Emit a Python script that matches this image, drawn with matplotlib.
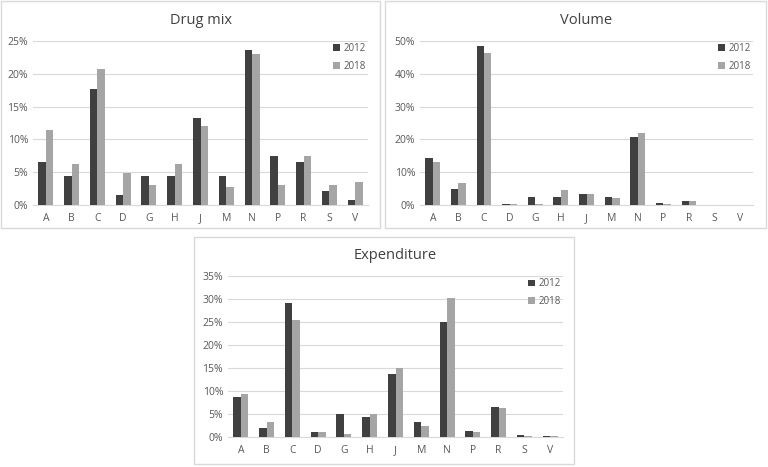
import matplotlib
matplotlib.use('Agg')
import matplotlib.pyplot as plt
from matplotlib.patches import Rectangle
from matplotlib.ticker import FuncFormatter
import numpy as np

categories = ['A', 'B', 'C', 'D', 'G', 'H', 'J', 'M', 'N', 'P', 'R', 'S', 'V']
years = ['2012', '2018']

drug_mix_2012 = [6.6, 4.4, 17.7, 1.5, 4.4, 4.4, 13.3, 4.4, 23.6, 7.4, 6.6, 2.2, 0.8]
drug_mix_2018 = [11.5, 6.2, 20.8, 4.9, 3.1, 6.2, 12.0, 2.7, 23.0, 3.1, 7.5, 3.1, 3.5]

volume_2012 = [14.2, 5.0, 48.6, 0.3, 2.3, 2.3, 3.5, 2.4, 20.6, 0.6, 1.1, 0.1, 0.05]
volume_2018 = [13.1, 6.6, 46.4, 0.2, 0.2, 4.5, 3.4, 2.2, 21.9, 0.4, 1.3, 0.05, 0.1]

expenditure_2012 = [8.7, 1.9, 29.1, 1.0, 5.0, 4.3, 13.6, 3.2, 25.0, 1.2, 6.6, 0.4, 0.25]
expenditure_2018 = [9.3, 3.3, 25.5, 1.0, 0.7, 5.0, 15.0, 2.5, 30.2, 1.0, 6.2, 0.2, 0.2]

DARK = '#404040'
LIGHT = '#a5a5a5'
GRID = '#d9d9d9'
TEXT = '#595959'
FONT = 'Open Sans'

plt.rcParams['font.family'] = [FONT, 'DejaVu Sans']

fig = plt.figure(figsize=(7.68, 4.67), dpi=100)
W, H = 768.0, 467.0


def px_rect(x0, y0, x1, y1):
    # pixel box (top-left origin) -> figure fraction [left, bottom, width, height]
    return [x0 / W, 1 - y1 / H, (x1 - x0) / W, (y1 - y0) / H]


def panel(frame, plot_box, title, v2012, v2018, ymax, step):
    fx = px_rect(*frame)
    fig.patches.append(Rectangle((fx[0], fx[1]), fx[2], fx[3], transform=fig.transFigure,
                                 facecolor='none', edgecolor=GRID, lw=1.0, zorder=-1))
    ax = fig.add_axes(px_rect(*plot_box))
    x = np.arange(len(categories))
    w = 0.29
    ax.bar(x - w / 2, v2012, w, color=DARK, label=years[0], zorder=3)
    ax.bar(x + w / 2, v2018, w, color=LIGHT, label=years[1], zorder=3)
    ax.set_xlim(-0.5, len(categories) - 0.5)
    ax.set_ylim(0, ymax)
    ax.set_yticks(np.arange(0, ymax + 0.01, step))
    ax.yaxis.set_major_formatter(FuncFormatter(lambda v, p: '%d%%' % v))
    ax.set_xticks(x)
    ax.set_xticklabels(categories)
    ax.grid(axis='y', color=GRID, lw=0.8, zorder=0)
    ax.set_axisbelow(True)
    for s in ['top', 'right', 'left']:
        ax.spines[s].set_visible(False)
    ax.spines['bottom'].set_color(GRID)
    ax.tick_params(length=0, colors=TEXT, labelsize=7.5)
    ax.tick_params(axis='x', pad=6)
    ax.set_facecolor('none')
    ax.set_title(title, fontsize=10.5, color='#404040', pad=12)
    leg = ax.legend(loc='upper right', frameon=False, fontsize=7, handlelength=0.7,
                    handleheight=0.7, handletextpad=0.4, labelspacing=0.65,
                    bbox_to_anchor=(1.02, 1.04))
    for t in leg.get_texts():
        t.set_color(TEXT)
    return ax


panel((1, 1, 380, 228), (33, 41, 368, 205), 'Drug mix', drug_mix_2012, drug_mix_2018, 25, 5)
panel((385, 1, 766, 228), (420, 41, 753, 205), 'Volume', volume_2012, volume_2018, 50, 10)
panel((194, 237, 574, 464), (228, 276, 563, 437), 'Expenditure', expenditure_2012, expenditure_2018, 35, 5)

fig.savefig('out.png', dpi=100)
